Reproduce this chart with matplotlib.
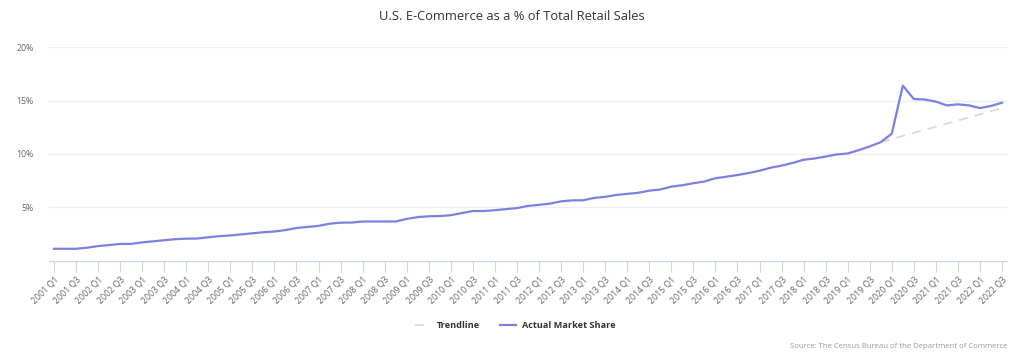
import numpy as np
import matplotlib.pyplot as plt

plt.rcParams['font.family'] = ['Open Sans', 'DejaVu Sans']

# quarterly categories, 2001 Q1 .. 2022 Q3
quarters = [f"{y} Q{q}" for y in range(2001, 2023) for q in range(1, 5)][:87]

# e-commerce share of total retail sales (%)
share = [
    1.1, 1.1, 1.1, 1.2,        # 2001
    1.35, 1.45, 1.55, 1.56,    # 2002
    1.7, 1.8, 1.9, 2.0,        # 2003
    2.05, 2.06, 2.18, 2.28,    # 2004
    2.35, 2.45, 2.55, 2.65,    # 2005
    2.72, 2.85, 3.05, 3.15,    # 2006
    3.25, 3.45, 3.55, 3.56,    # 2007
    3.66, 3.66, 3.66, 3.66,    # 2008
    3.9, 4.07, 4.15, 4.17,     # 2009
    4.25, 4.45, 4.64, 4.64,    # 2010
    4.72, 4.82, 4.92, 5.12,    # 2011
    5.22, 5.34, 5.55, 5.64,    # 2012
    5.65, 5.87, 5.97, 6.15,    # 2013
    6.25, 6.35, 6.55, 6.66,    # 2014
    6.93, 7.06, 7.25, 7.41,    # 2015
    7.72, 7.86, 8.02, 8.2,     # 2016
    8.42, 8.7, 8.9, 9.15,      # 2017
    9.45, 9.57, 9.75, 9.95,    # 2018
    10.04, 10.35, 10.7, 11.1,  # 2019
    11.9, 16.4, 15.15, 15.1,   # 2020
    14.9, 14.55, 14.65, 14.55, # 2021
    14.3, 14.5, 14.8,          # 2022
]

# pre-pandemic trendline (start and end points)
trend_quarters = ["2019 Q4", "2022 Q3"]
trend_values = [11.1, 14.3]

yticks = [5, 10, 15, 20]
ytick_labels = ["5%", "10%", "15%", "20%"]

x = np.arange(len(quarters))
trend_x = [quarters.index(q) for q in trend_quarters]

fig = plt.figure(figsize=(10.24, 3.56), dpi=100)
ax = fig.add_axes([49 / 1024, 1 - 260.5 / 356, (1007 - 49) / 1024, (260.5 - 47.3) / 356])

ax.plot(trend_x, trend_values, color='#d9d9d9', lw=1.3, ls=(0, (5, 4)), label='Trendline', zorder=2)
ax.plot(x, share, color='#7b80e3', lw=1.6, label='Actual Market Share', zorder=3)

ax.set_xlim(-0.45, len(quarters) - 1 + 0.45)
ax.set_ylim(0, 20)

ax.set_yticks(yticks)
ax.set_yticklabels(ytick_labels, color='#666666', fontsize=6.3)
ax.yaxis.grid(True, color='#efefef', lw=0.9)
ax.set_axisbelow(True)
ax.tick_params(axis='y', length=0, pad=11)

ax.set_xticks(x[::2])
ax.set_xticklabels(quarters[::2], rotation=45, ha='right', rotation_mode='anchor',
                   color='#666666', fontsize=6.3)
ax.tick_params(axis='x', length=8, width=0.8, color='#ccd6eb', pad=2.5, direction='out')

for side in ['top', 'right', 'left']:
    ax.spines[side].set_visible(False)
ax.spines['bottom'].set_color('#ccd6eb')
ax.spines['bottom'].set_linewidth(0.9)

fig.text(0.5, 1 - 17 / 356, "U.S. E-Commerce as a % of Total Retail Sales",
         ha='center', va='center', fontsize=9.3, color='#333333')

leg = fig.legend(loc='center', bbox_to_anchor=(0.503, 1 - 326 / 356), ncol=2, frameon=False,
                 fontsize=6.6, handlelength=1.8, columnspacing=2.2, handletextpad=0.6)
for t in leg.get_texts():
    t.set_fontweight('bold')
    t.set_color('#333333')

fig.text(1007 / 1024, 1 - 346 / 356, "Source: The Census Bureau of the Department of Commerce",
         ha='right', va='center', fontsize=5.6, color='#999999')

fig.savefig('out.png', dpi=100, facecolor='white')
